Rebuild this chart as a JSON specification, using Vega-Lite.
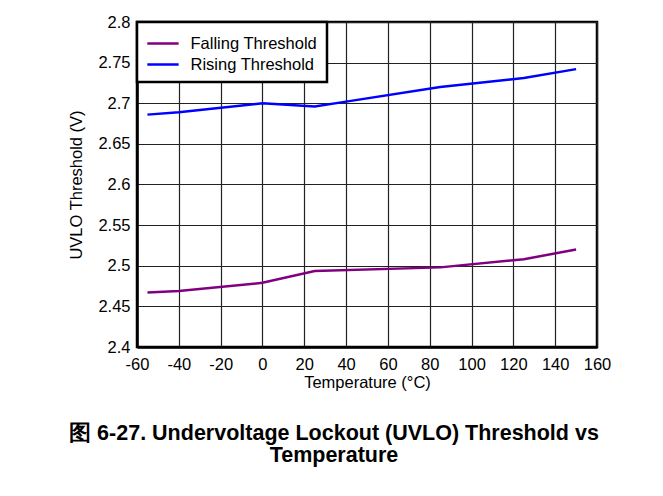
{
  "$schema": "https://vega.github.io/schema/vega-lite/v6.json",
  "autosize": "none",
  "width": 460,
  "height": 325,
  "padding": {"left": 137, "top": 22, "right": 66, "bottom": 149},
  "background": "white",
  "config": {
    "font": "Liberation Sans",
    "view": {"stroke": "black", "strokeWidth": 2.5},
    "legend": {"strokeColor": "black", "fillColor": "white", "padding": 9},
    "axis": {
      "labelFont": "Liberation Sans",
      "titleFont": "Liberation Sans",
      "labelFontSize": 16.5,
      "titleFontSize": 16.5,
      "labelColor": "black",
      "titleColor": "black",
      "titleFontWeight": "normal",
      "gridColor": "#222222",
      "gridOpacity": 1,
      "gridWidth": 1.2,
      "ticks": false,
      "domainColor": "black",
      "domainWidth": 2.5
    }
  },
  "title": {
    "text": ["图 6-27. Undervoltage Lockout (UVLO) Threshold vs", "Temperature"],
    "orient": "bottom",
    "anchor": "middle",
    "offset": 32,
    "dx": -33,
    "font": "Liberation Sans",
    "fontSize": 21.5,
    "fontWeight": "bold",
    "color": "black",
    "lineHeight": 22
  },
  "data": {
    "values": [
      {"temp": -55, "v": 2.467, "series": "Falling Threshold"},
      {"temp": -40, "v": 2.469, "series": "Falling Threshold"},
      {"temp": 0, "v": 2.479, "series": "Falling Threshold"},
      {"temp": 25, "v": 2.4935, "series": "Falling Threshold"},
      {"temp": 85, "v": 2.498, "series": "Falling Threshold"},
      {"temp": 125, "v": 2.508, "series": "Falling Threshold"},
      {"temp": 150, "v": 2.520, "series": "Falling Threshold"},
      {"temp": -55, "v": 2.686, "series": "Rising Threshold"},
      {"temp": -40, "v": 2.689, "series": "Rising Threshold"},
      {"temp": 0, "v": 2.700, "series": "Rising Threshold"},
      {"temp": 25, "v": 2.696, "series": "Rising Threshold"},
      {"temp": 40, "v": 2.702, "series": "Rising Threshold"},
      {"temp": 85, "v": 2.720, "series": "Rising Threshold"},
      {"temp": 125, "v": 2.731, "series": "Rising Threshold"},
      {"temp": 150, "v": 2.742, "series": "Rising Threshold"}
    ]
  },
  "mark": {"type": "line", "strokeWidth": 2.5},
  "encoding": {
    "x": {
      "field": "temp",
      "type": "quantitative",
      "scale": {"domain": [-60, 160], "nice": false, "zero": false},
      "axis": {
        "values": [-60, -40, -20, 0, 20, 40, 60, 80, 100, 120, 140, 160],
        "labelExpr": "replace(datum.label, '−', '-')",
        "title": "Temperature (°C)",
        "labelPadding": 9,
        "titlePadding": 2,
        "labelFlush": false
      }
    },
    "y": {
      "field": "v",
      "type": "quantitative",
      "scale": {"domain": [2.4, 2.8], "nice": false, "zero": false},
      "axis": {
        "values": [2.4, 2.45, 2.5, 2.55, 2.6, 2.65, 2.7, 2.75, 2.8],
        "format": ".2~f",
        "title": "UVLO Threshold (V)",
        "labelPadding": 7,
        "titlePadding": 13,
        "labelFlush": false
      }
    },
    "color": {
      "field": "series",
      "type": "nominal",
      "scale": {"domain": ["Falling Threshold", "Rising Threshold"], "range": ["#800080", "#0000ff"]},
      "legend": {
        "title": null,
        "orient": "top-left",
        "offset": 0,
        "labelFont": "Liberation Sans",
        "labelFontSize": 16.5,
        "labelColor": "black",
        "symbolType": "M-1,0H1.8",
        "symbolSize": 500,
        "symbolStrokeWidth": 2.5,
        "rowPadding": -2,
        "labelOffset": 19.5,
        "encode": {"legend": {"update": {"strokeWidth": {"value": 2.5}}}}
      }
    }
  }
}
